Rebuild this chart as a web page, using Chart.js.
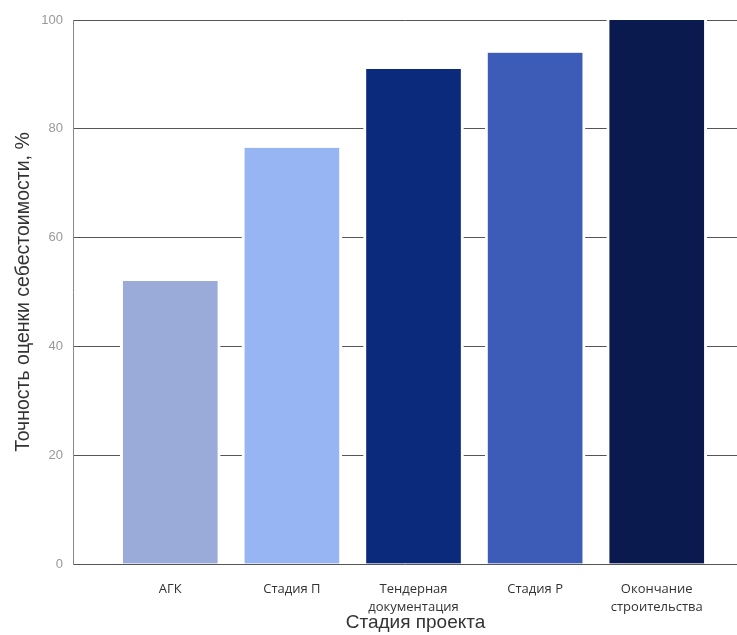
<!DOCTYPE html>
<html lang="ru">
<head>
<meta charset="utf-8">
<title>Точность оценки себестоимости по стадиям проекта</title>
<script src="https://cdn.jsdelivr.net/npm/chart.js@4/dist/chart.umd.min.js"></script>
<style>
  html, body { margin: 0; padding: 0; background: #ffffff; }
  #wrap { width: 737px; height: 635px; }
</style>
</head>
<body>
<div id="wrap"><canvas id="chart" width="737" height="635"></canvas></div>
<script>
// Project stages (x axis) and estimate accuracy, %
const stages = ['АГК', 'Стадия П', ['Тендерная', 'документация'], 'Стадия Р', ['Окончание', 'строительства']];
const accuracy = [52, 76.5, 91, 94, 100];
const barColors = ['#9aabd9', '#97b5f2', '#0c2a7c', '#3d5cb8', '#0b1a4e'];
const yTicks = [0, 20, 40, 60, 80, 100];
const xTitle = 'Стадия проекта';

const points = accuracy.map((v, i) => ({ x: i, y: v }));

// Axis caption centred under the middle stage
const xTitlePlugin = {
  id: 'xTitle',
  afterDraw(chart) {
    const { ctx, scales } = chart;
    const x = scales.x.getPixelForValue(2) + 2;
    ctx.save();
    ctx.font = '19px "Liberation Sans"';
    ctx.fillStyle = '#333333';
    ctx.textAlign = 'center';
    ctx.textBaseline = 'middle';
    ctx.fillText(xTitle, x, 623);
    ctx.restore();
  }
};

new Chart(document.getElementById('chart'), {
  type: 'bar',
  data: {
    datasets: [{
      data: points,
      backgroundColor: barColors,
      borderColor: '#ffffff',
      borderWidth: { left: 3, right: 3, top: 0, bottom: 0 },
      borderSkipped: false,
      barThickness: 100
    }]
  },
  options: {
    responsive: false,
    animation: false,
    devicePixelRatio: 1,
    layout: { padding: { top: 20, right: 0, left: 0, bottom: 0 } },
    plugins: { legend: { display: false }, tooltip: { enabled: false } },
    scales: {
      x: {
        type: 'linear',
        offset: false,
        min: -0.8,
        max: 4.66,
        afterBuildTicks: (scale) => { scale.ticks = stages.map((_, i) => ({ value: i })); },
        afterFit: (scale) => { scale.height = 71; },
        grid: { display: false, drawTicks: false, offset: false },
        border: { display: false },
        ticks: {
          autoSkip: false,
          maxRotation: 0,
          padding: 16,
          color: '#333333',
          font: { family: 'Open Sans', size: 13, lineHeight: 1.38 },
          callback: (value) => stages[value]
        },
        title: { display: false }
      },
      y: {
        min: 0,
        max: 100,
        afterBuildTicks: (scale) => { scale.ticks = yTicks.map(v => ({ value: v })); },
        afterFit: (scale) => { scale.width = 73; },
        grid: { color: '#555555', lineWidth: 1, drawTicks: false },
        border: { display: true, color: '#888888', width: 1 },
        ticks: {
          padding: 10,
          color: '#999999',
          font: { family: 'Liberation Sans', size: 13 }
        },
        title: {
          display: true,
          text: 'Точность оценки себестоимости, %',
          color: '#333333',
          font: { family: 'Liberation Sans', size: 19.5 },
          padding: { top: 12, bottom: 0 }
        }
      }
    }
  },
  plugins: [xTitlePlugin]
});
</script>
</body>
</html>
